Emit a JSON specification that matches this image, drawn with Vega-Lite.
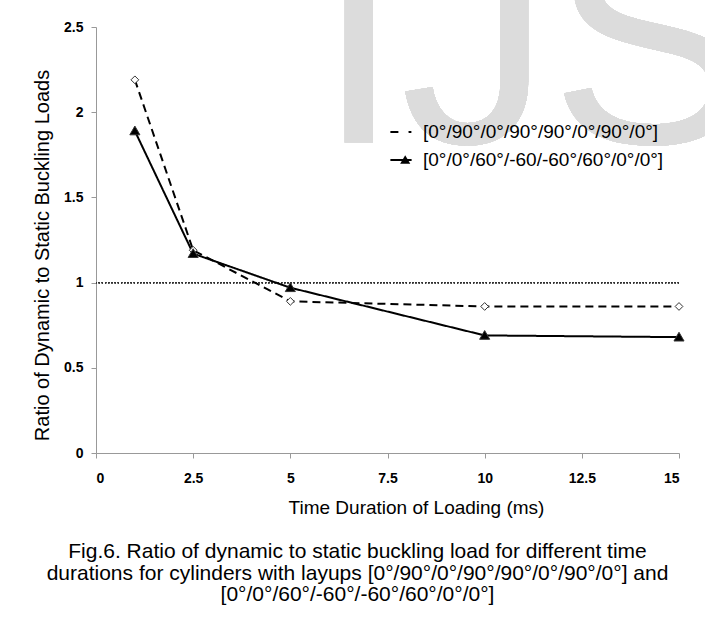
{
  "$schema": "https://vega.github.io/schema/vega-lite/v6.json",
  "autosize": {"type": "none"},
  "width": 583,
  "height": 426,
  "padding": {"left": 96, "top": 27, "right": 26, "bottom": 165},
  "background": "white",
  "config": {
    "view": {"stroke": null},
    "font": "Liberation Sans"
  },
  "title": {
    "text": [
      "Fig.6. Ratio of dynamic to static buckling load for different time",
      "durations for cylinders with layups [0°/90°/0°/90°/90°/0°/90°/0°] and",
      "[0°/0°/60°/-60°/-60°/60°/0°/0°]"
    ],
    "orient": "bottom",
    "anchor": "middle",
    "frame": "group",
    "font": "Liberation Sans",
    "fontSize": 21,
    "fontWeight": "normal",
    "color": "black",
    "lineHeight": 21.7,
    "offset": 24,
    "dx": -30
  },
  "data": {
    "values": [
      {"series": "[0°/90°/0°/90°/90°/0°/90°/0°]", "marker": "[0°/90°/0°/90°/90°/0°/90°/0°]", "time": 1, "ratio": 2.19},
      {"series": "[0°/90°/0°/90°/90°/0°/90°/0°]", "marker": "[0°/90°/0°/90°/90°/0°/90°/0°]", "time": 2.5, "ratio": 1.19},
      {"series": "[0°/90°/0°/90°/90°/0°/90°/0°]", "marker": "[0°/90°/0°/90°/90°/0°/90°/0°]", "time": 5, "ratio": 0.89},
      {"series": "[0°/90°/0°/90°/90°/0°/90°/0°]", "marker": "[0°/90°/0°/90°/90°/0°/90°/0°]", "time": 10, "ratio": 0.86},
      {"series": "[0°/90°/0°/90°/90°/0°/90°/0°]", "marker": "[0°/90°/0°/90°/90°/0°/90°/0°]", "time": 15, "ratio": 0.86},
      {"series": "[0°/0°/60°/-60/-60°/60°/0°/0°]", "marker": "[0°/0°/60°/-60/-60°/60°/0°/0°]", "time": 1, "ratio": 1.89},
      {"series": "[0°/0°/60°/-60/-60°/60°/0°/0°]", "marker": "[0°/0°/60°/-60/-60°/60°/0°/0°]", "time": 2.5, "ratio": 1.17},
      {"series": "[0°/0°/60°/-60/-60°/60°/0°/0°]", "marker": "[0°/0°/60°/-60/-60°/60°/0°/0°]", "time": 5, "ratio": 0.97},
      {"series": "[0°/0°/60°/-60/-60°/60°/0°/0°]", "marker": "[0°/0°/60°/-60/-60°/60°/0°/0°]", "time": 10, "ratio": 0.69},
      {"series": "[0°/0°/60°/-60/-60°/60°/0°/0°]", "marker": "[0°/0°/60°/-60/-60°/60°/0°/0°]", "time": 15, "ratio": 0.68}
    ]
  },
  "encoding": {
    "x": {
      "field": "time",
      "type": "quantitative",
      "scale": {"domain": [0, 15], "nice": false, "zero": false},
      "axis": {
        "title": "Time Duration of Loading (ms)",
        "values": [0, 2.5, 5, 7.5, 10, 12.5, 15],
        "labelExpr": "'' + datum.value",
        "grid": false,
        "domainColor": "#999999",
        "tickColor": "#999999",
        "tickSize": 5,
        "labelPadding": 13,
        "labelFont": "Liberation Sans",
        "labelFontWeight": "bold",
        "labelFontSize": 14,
        "labelColor": "black",
        "titleFont": "Liberation Sans",
        "titleFontWeight": "normal",
        "titleFontSize": 19,
        "titleColor": "black",
        "titleX": 320,
        "titleY": 54,
        "titleBaseline": "middle"
      }
    },
    "y": {
      "field": "ratio",
      "type": "quantitative",
      "scale": {"domain": [0, 2.5], "nice": false},
      "axis": {
        "title": "Ratio of Dynamic to Static Buckling Loads",
        "values": [0, 0.5, 1, 1.5, 2, 2.5],
        "labelExpr": "'' + datum.value",
        "grid": false,
        "domainColor": "#999999",
        "tickColor": "#999999",
        "tickSize": 5,
        "labelPadding": 8,
        "labelFont": "Liberation Sans",
        "labelFontWeight": "bold",
        "labelFontSize": 14,
        "labelColor": "black",
        "titleFont": "Liberation Sans",
        "titleFontWeight": "normal",
        "titleFontSize": 20,
        "titleColor": "black",
        "titleX": -54,
        "titleY": 228,
        "titleBaseline": "middle",
        "titleAngle": -90
      }
    }
  },
  "layer": [
    {
      "mark": {
        "type": "text",
        "text": "IJS",
        "font": "Liberation Sans",
        "fontSize": 300,
        "color": "#dcdcdc",
        "align": "left",
        "baseline": "alphabetic",
        "clip": false
      },
      "encoding": {
        "x": {"datum": 5.69},
        "y": {"datum": 1.82}
      }
    },
    {
      "mark": {"type": "rule", "color": "#333333", "strokeWidth": 1.2, "strokeDash": [1.2, 2]},
      "encoding": {
        "x": null,
        "y": {"datum": 1}
      }
    },
    {
      "mark": {"type": "line", "color": "black", "strokeWidth": 2},
      "encoding": {
        "strokeDash": {
          "field": "series",
          "type": "nominal",
          "sort": "descending",
          "scale": {"range": [[8, 5], [1, 0]]},
          "legend": {
            "title": null,
            "orient": "none",
            "legendX": 293,
            "legendY": 94,
            "padding": 0,
            "symbolType": "stroke",
            "symbolSize": 450,
            "symbolStrokeWidth": 2,
            "symbolStrokeColor": "black",
            "clipHeight": 22,
            "rowPadding": 6,
            "labelOffset": 10,
            "labelFont": "Liberation Sans",
            "labelFontSize": 19,
            "labelColor": "black",
            "labelLimit": 400
          }
        }
      }
    },
    {
      "mark": {"type": "point", "filled": true, "stroke": "#333333", "strokeWidth": 1, "opacity": 1, "size": 60},
      "encoding": {
        "shape": {
          "field": "marker",
          "type": "nominal",
          "sort": "descending",
          "scale": {"range": ["diamond", "M0,-1.25L1.3,1L-1.3,1Z"]},
          "legend": {
            "title": null,
            "orient": "none",
            "legendX": 299.7,
            "legendY": 94,
            "padding": 0,
            "symbolSize": 60,
            "symbolStrokeWidth": 1,
            "symbolStrokeColor": "#333333",
            "clipHeight": 22,
            "rowPadding": 6,
            "labelOffset": 10,
            "labelFont": "Liberation Sans",
            "labelFontSize": 19,
            "labelExpr": "''",
            "labelLimit": 400,
            "encode": {
              "symbols": {
                "update": {
                  "stroke": {"value": "#333333"},
                  "strokeWidth": {"value": 1}
                }
              }
            }
          }
        },
        "fill": {
          "field": "marker",
          "type": "nominal",
          "sort": "descending",
          "scale": {"range": ["white", "black"]}
        }
      }
    }
  ]
}
